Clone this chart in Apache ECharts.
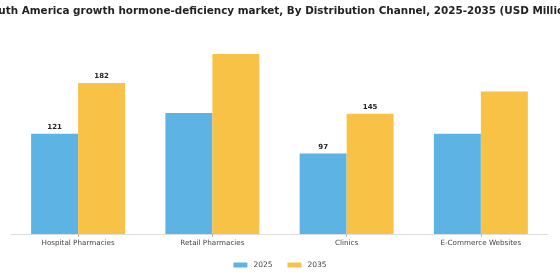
<!DOCTYPE html>
<html>
<head>
<meta charset="utf-8">
<script src="https://cdn.jsdelivr.net/npm/echarts@6/dist/echarts.min.js"></script>
<style>html,body{margin:0;padding:0;background:#fff;}#c{width:560px;height:280px;}</style>
</head>
<body>
<div id="c"></div>
<script>
var titleText = 'South America growth hormone-deficiency market, By Distribution Channel, 2025-2035 (USD Million)';
var categories = ['Hospital Pharmacies', 'Retail Pharmacies', 'Clinics', 'E-Commerce Websites'];
var seriesNames = ['2025', '2035'];
var values2025 = [121, 146, 97, 121];
var values2035 = [182, 217, 145, 172];
var showLabel2025 = [true, false, true, false];
var showLabel2035 = [true, false, true, false];

function buildData(vals, shows) {
  return vals.map(function (v, i) {
    return { value: v, label: { show: shows[i] } };
  });
}

var chart = echarts.init(document.getElementById('c'), null, { renderer: 'canvas' });
var labelStyle = { position: 'top', distance: 3, fontFamily: 'DejaVu Sans', fontSize: 7, fontWeight: 'bold', color: '#222' };
chart.setOption({
  animation: false,
  backgroundColor: '#ffffff',
  title: {
    text: titleText,
    left: 'center',
    top: 1,
    textStyle: { fontFamily: 'DejaVu Sans', fontSize: 10.4, fontWeight: 'bold', color: '#222' }
  },
  legend: {
    data: seriesNames,
    bottom: 6,
    left: 'center',
    itemWidth: 14,
    itemHeight: 5,
    itemGap: 15,
    icon: 'rect',
    textStyle: { fontFamily: 'DejaVu Sans', fontSize: 7.5, color: '#444', padding: [0, 0, 0, 1] }
  },
  grid: { left: 11, right: 12, top: 35, bottom: 46, containLabel: false },
  xAxis: {
    type: 'category',
    data: categories,
    axisLine: { lineStyle: { color: '#ddd', width: 1 } },
    axisTick: { show: true, alignWithLabel: true, length: 3, lineStyle: { color: '#bbb' } },
    axisLabel: { fontFamily: 'DejaVu Sans', fontSize: 7.2, color: '#444', margin: 6 }
  },
  yAxis: {
    type: 'value',
    min: 0,
    max: 240,
    show: false,
    splitLine: { show: false }
  },
  series: [
    {
      name: seriesNames[0],
      type: 'bar',
      data: buildData(values2025, showLabel2025),
      itemStyle: { color: '#5DB3E4' },
      barGap: '0%',
      barCategoryGap: '30%',
      label: labelStyle
    },
    {
      name: seriesNames[1],
      type: 'bar',
      data: buildData(values2035, showLabel2035),
      itemStyle: { color: '#F8C246' },
      label: labelStyle
    }
  ]
});
</script>
</body>
</html>
